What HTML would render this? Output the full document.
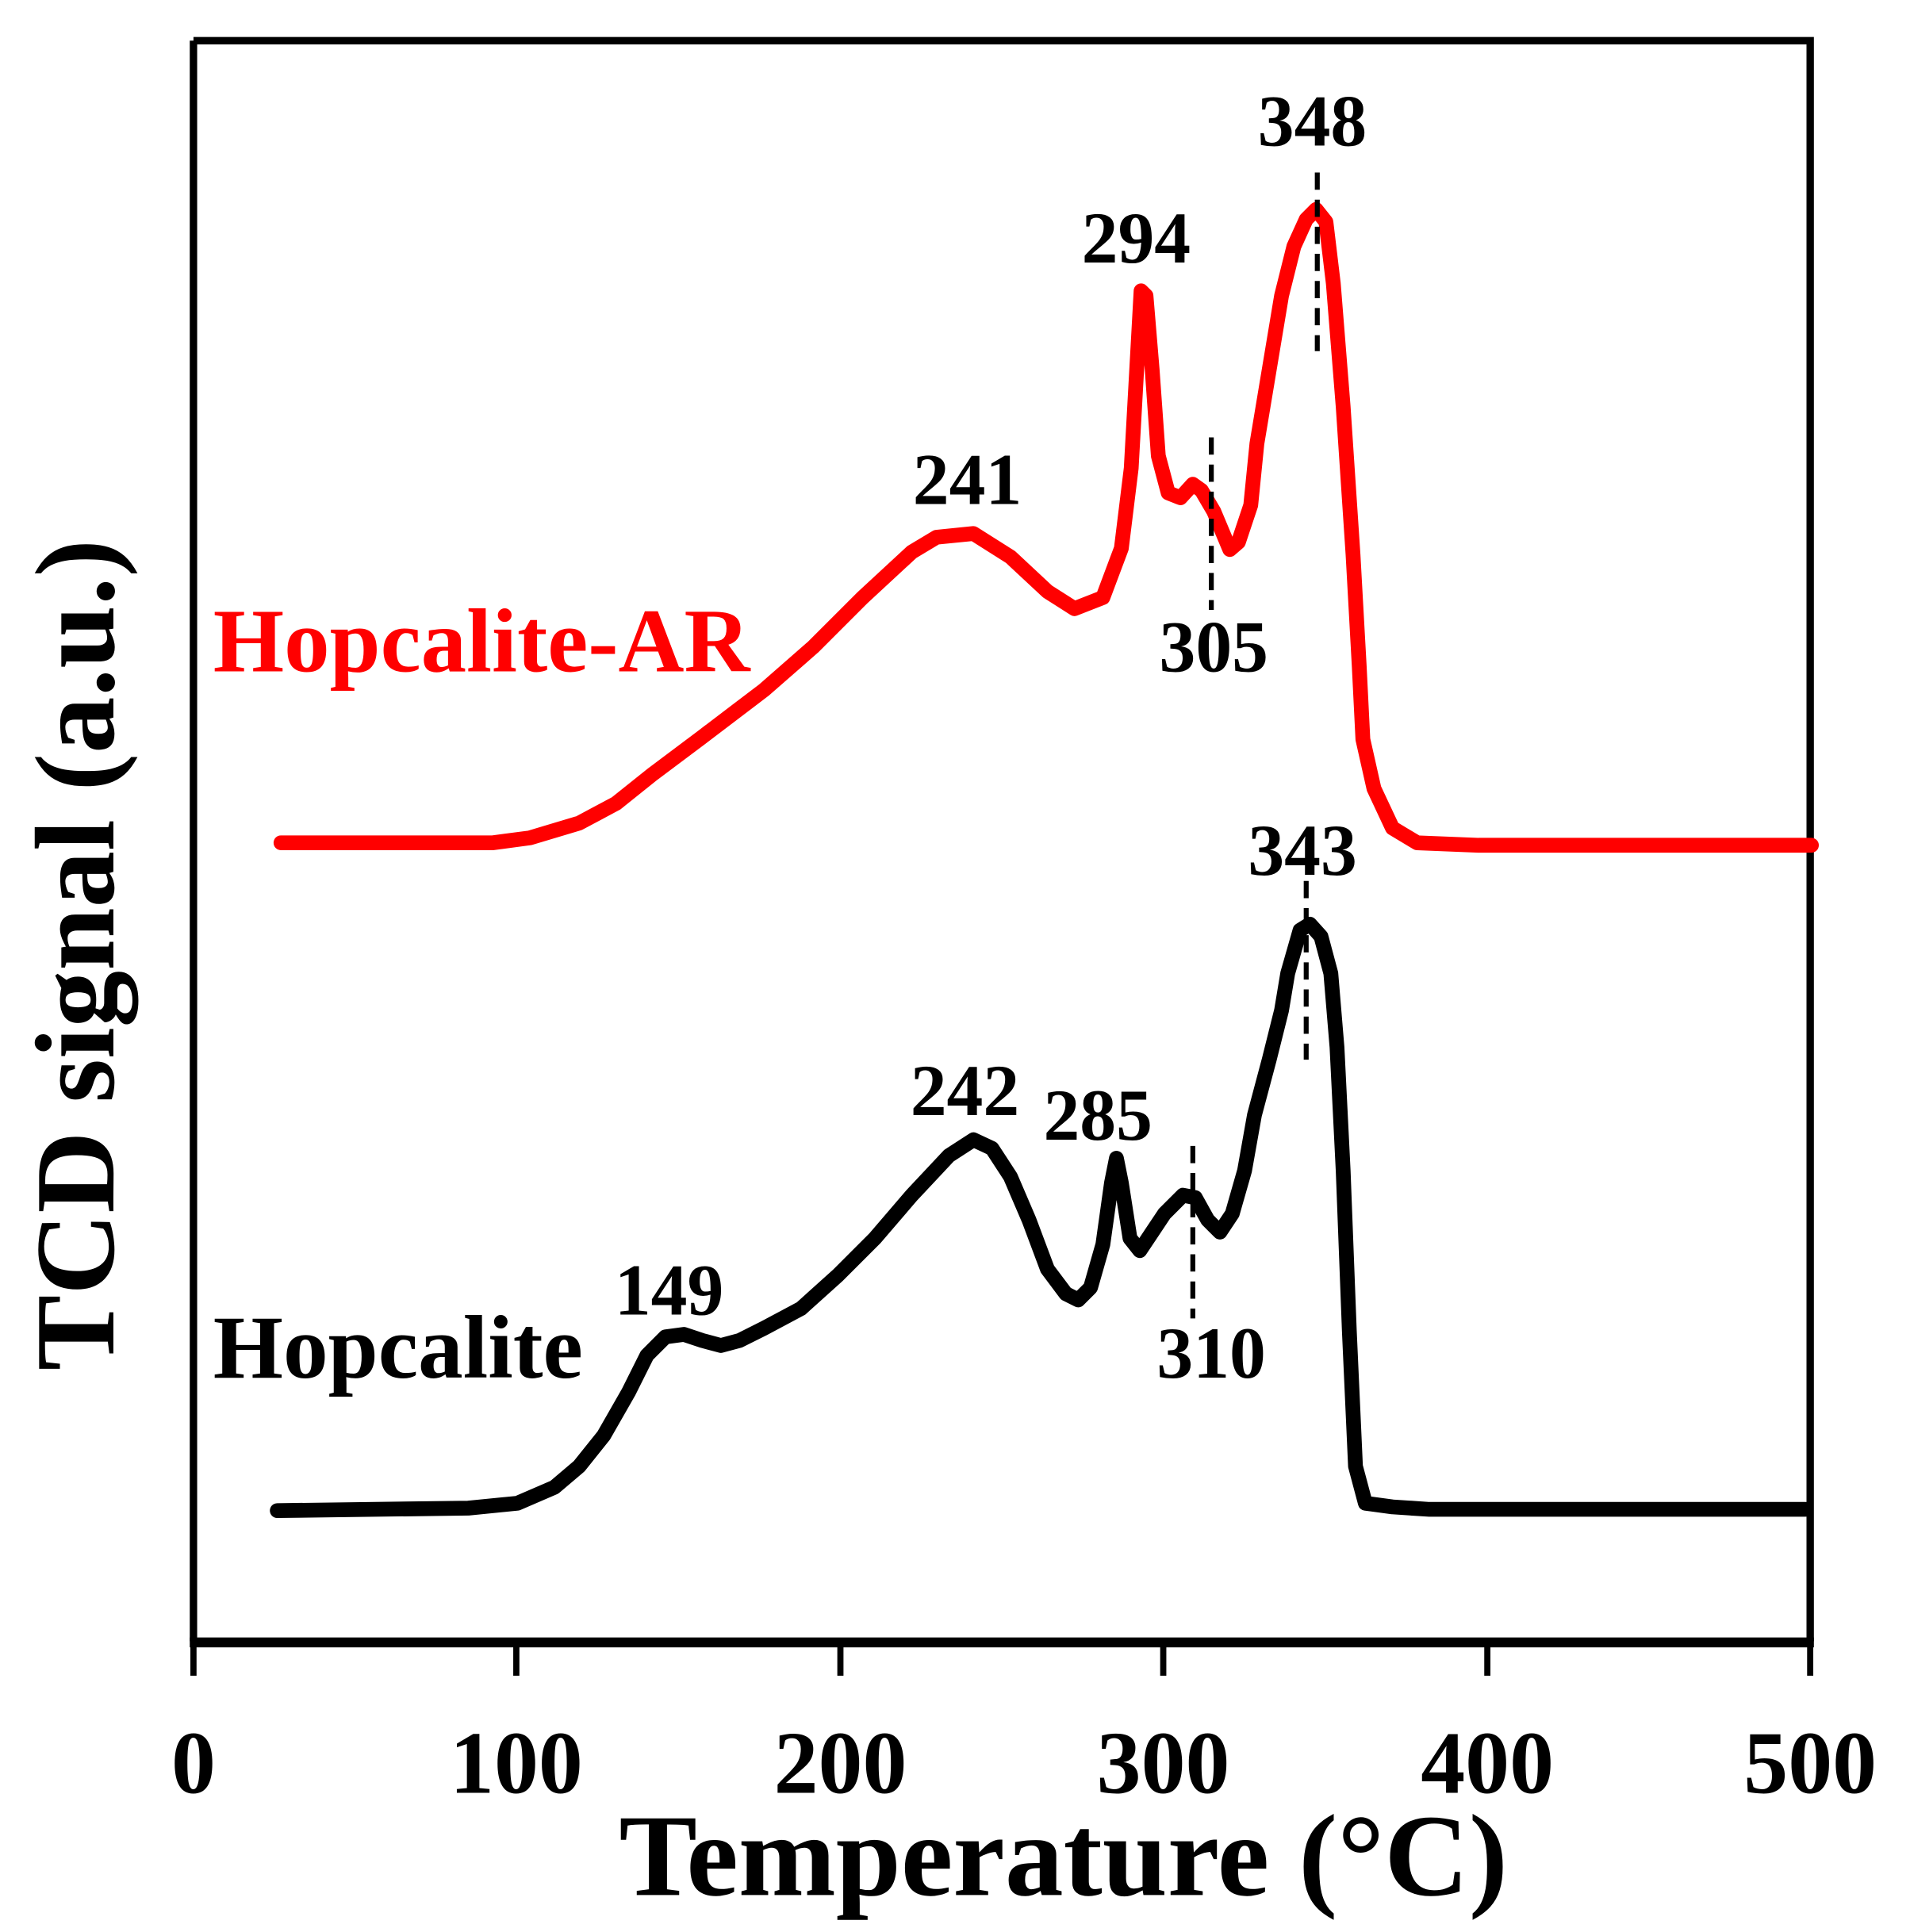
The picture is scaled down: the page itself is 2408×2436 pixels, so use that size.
<!DOCTYPE html>
<html><head><meta charset="utf-8"><style>html,body{margin:0;padding:0;background:#fff}svg{display:block}</style></head>
<body>
<svg width="2408" height="2436" viewBox="0 0 1550 1568" xmlns="http://www.w3.org/2000/svg" font-family="'Liberation Serif', serif" font-weight="bold">
<rect width="1550" height="1568" fill="#fff"/>
<path d="M157,33 L1469,33 L1469,1332 M157,33 L157,1332" fill="none" stroke="#000" stroke-width="6"/>
<line x1="154" y1="1333" x2="1472" y2="1333" stroke="#000" stroke-width="8"/>
<g stroke="#000" stroke-width="5">
<line x1="157" y1="1333" x2="157" y2="1360"/><line x1="419" y1="1333" x2="419" y2="1360"/>
<line x1="682" y1="1333" x2="682" y2="1360"/><line x1="944" y1="1333" x2="944" y2="1360"/>
<line x1="1207" y1="1333" x2="1207" y2="1360"/><line x1="1469" y1="1333" x2="1469" y2="1360"/>
</g>
<g font-size="72" text-anchor="middle">
<text x="157" y="1455">0</text><text x="419" y="1455">100</text><text x="682" y="1455">200</text>
<text x="944" y="1455">300</text><text x="1207" y="1455">400</text><text x="1469" y="1455">500</text>
</g>
<text x="863" y="1538" font-size="95" text-anchor="middle">Temperature (°C)</text>
<text transform="translate(92,775) rotate(-90)" font-size="92" text-anchor="middle">TCD signal (a.u.)</text>
<polyline fill="none" stroke="#ff0000" stroke-width="12" stroke-linejoin="round" stroke-linecap="round" points="228,684 400,684 430,680 470,668 500,652 530,628 570,598 620,560 660,525 700,485 740,448 760,436 790,433 820,452 850,480 872,494 895,485 910,445 918,380 923,290 926,236 930,240 935,300 940,370 948,400 958,404 968,393 975,398 985,415 998,446 1005,440 1015,410 1020,360 1030,300 1040,240 1050,200 1060,178 1068,170 1076,180 1082,230 1090,330 1098,450 1103,540 1106,600 1115,640 1130,672 1150,684 1200,686 1470,686"/>
<polyline fill="none" stroke="#000" stroke-width="12" stroke-linejoin="round" stroke-linecap="round" points="225,1226 380,1224 420,1220 450,1207 470,1190 490,1165 510,1130 525,1100 540,1085 555,1083 570,1088 585,1092 600,1088 620,1078 650,1062 680,1035 710,1005 740,970 770,938 790,925 805,932 820,955 835,990 850,1030 865,1050 875,1055 885,1045 895,1010 902,960 906,940 910,960 917,1005 925,1015 935,1000 945,985 960,970 970,972 980,990 990,1000 1000,985 1010,950 1018,905 1030,860 1040,820 1045,790 1055,755 1063,750 1072,760 1080,790 1085,850 1090,950 1095,1080 1100,1190 1108,1220 1130,1223 1160,1225 1465,1225"/>
<g stroke="#000" stroke-width="4" stroke-dasharray="14,8">
<line x1="1069" y1="140" x2="1069" y2="285"/>
<line x1="983" y1="355" x2="983" y2="495"/>
<line x1="1060" y1="715" x2="1060" y2="860"/>
<line x1="968" y1="930" x2="968" y2="1070"/>
</g>
<g font-size="59" text-anchor="middle">
<text x="1065" y="118">348</text><text x="922" y="213">294</text><text x="785" y="409">241</text>
<text x="985" y="545">305</text><text x="1057" y="710">343</text><text x="783" y="905">242</text>
<text x="891" y="925">285</text><text x="543" y="1067">149</text><text x="983" y="1118">310</text>
</g>
<text x="173" y="545" font-size="74" fill="#ff0000">Hopcalite-AR</text>
<text x="173" y="1118" font-size="73" fill="#000">Hopcalite</text>
</svg>
</body></html>
